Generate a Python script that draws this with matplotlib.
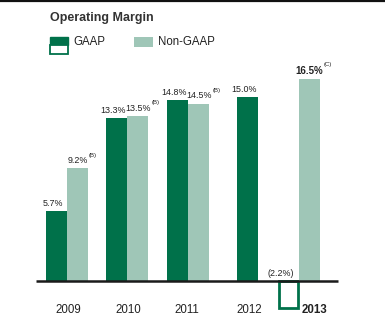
import matplotlib
matplotlib.use("Agg")
import matplotlib.pyplot as plt
import matplotlib.patches as mpatches

# values (%)
years = ["2009", "2010", "2011", "2012", "2013"]
gaap = [5.7, 13.3, 14.8, 15.0, -2.2]
non_gaap = [9.2, 13.5, 14.5, None, 16.5]
gaap_labels = ["5.7%", "13.3%", "14.8%", "15.0%", "(2.2%)"]
non_gaap_labels = ["9.2%", "13.5%", "14.5%", None, "16.5%"]
notes = ["(B)", "(B)", "(B)", None, "(C)"]

DARK = "#00714a"
LIGHT = "#9fc6b7"
FONT = "Liberation Sans"

W, H = 391, 325
fig = plt.figure(figsize=(W / 100, H / 100), dpi=100)
fig.patch.set_facecolor("white")

# chart axes fills the figure; x in px, y in % with baseline at 281 px from top
PX_PER_PCT = 12.24
BASE = 281
ax = fig.add_axes([0, 0, 1, 1])
ax.set_xlim(0, W)
ax.set_ylim(-(H - BASE) / PX_PER_PCT, BASE / PX_PER_PCT)
ax.axis("off")

# group layout (px): gaap bar centre, non-gaap bar centre
g_x = [56, 116, 177, 247, 288]
n_x = [77, 137.5, 198.5, None, 309]
bw = 21

for i in range(len(years)):
    v = gaap[i]
    if v >= 0:
        ax.bar(g_x[i], v, width=bw, color=DARK, linewidth=0, zorder=2)
    else:
        ax.bar(g_x[i], v, width=bw - 2, facecolor="white", edgecolor=DARK,
               linewidth=2, zorder=1)
    if non_gaap[i] is not None:
        ax.bar(n_x[i], non_gaap[i], width=bw, color=LIGHT, linewidth=0, zorder=2)

ax.hlines(0, 36, 338, color="#1a1a1a", linewidth=1.8, zorder=3)

# value labels
for i in range(len(years)):
    v = gaap[i]
    if v >= 0:
        ax.text(g_x[i] - 3, v + 0.25, gaap_labels[i], ha="center", va="bottom",
                fontsize=6.4, family=FONT, color="#222222")
    else:
        ax.text(g_x[i] - 7, 0.25, gaap_labels[i], ha="center", va="bottom",
                fontsize=6.4, family=FONT, color="#222222")
    if non_gaap[i] is not None:
        bold = i == len(years) - 1
        t = ax.text(n_x[i] + 0.5, non_gaap[i] + 0.25, non_gaap_labels[i],
                    ha="center", va="bottom", fontsize=7.0 if bold else 6.4,
                    family=FONT, color="#222222",
                    fontweight="bold" if bold else "normal")
        if notes[i]:
            ax.annotate(notes[i], xy=(1, 0.85), xycoords=t, xytext=(0.5, 0),
                        textcoords="offset points", ha="left", va="bottom",
                        fontsize=4.3, family=FONT, color="#222222")

# year labels
label_x = [68, 128, 187, 249, 314]
for i, y in enumerate(years):
    ax.text(label_x[i], -(310 - BASE) / PX_PER_PCT, y, ha="center", va="center",
            fontsize=8.3, family=FONT, color="#222222",
            fontweight="bold" if y == "2013" else "normal")

# title, legend and frame in pixel coordinates
px = fig.add_axes([0, 0, 1, 1])
px.set_xlim(0, W)
px.set_ylim(H, 0)
px.axis("off")
px.patch.set_alpha(0)

px.hlines(0.8, 0, 385, color="#111111", linewidth=1.6)
px.text(50, 18, "Operating Margin", ha="left", va="center", fontsize=9,
        fontweight="bold", family=FONT, color="#333333")

px.add_patch(mpatches.Rectangle((49.5, 37), 18, 8, facecolor=DARK, edgecolor=DARK, lw=1))
px.add_patch(mpatches.Rectangle((49.5, 45), 18, 9, facecolor="white", edgecolor=DARK, lw=1.3))
px.text(73, 42, "GAAP", ha="left", va="center", fontsize=8.3, family=FONT, color="#222222")
px.add_patch(mpatches.Rectangle((134, 37), 19, 10, facecolor=LIGHT, edgecolor="none"))
px.text(158, 42, "Non-GAAP", ha="left", va="center", fontsize=8.3, family=FONT, color="#222222")

fig.savefig("out.png", dpi=100, facecolor="white")
